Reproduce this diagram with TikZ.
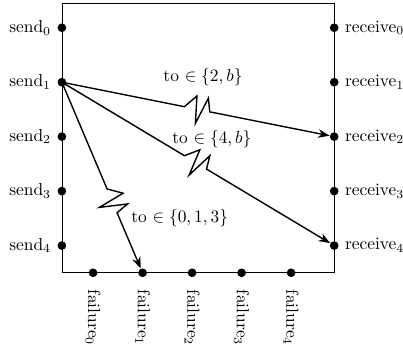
\documentclass[tikz,border=0pt]{standalone}
\usetikzlibrary{arrows.meta,calc}
\tikzset{
  dot/.style={circle, fill, inner sep=0pt, minimum size=5pt},
  bolt/.style={insert path={-- ++(#1+52:9.5pt) -- ++(#1-82:15.8pt) -- ++(#1+74:16.3pt) -- ++(#1-73:7.9pt)}}
}

\begin{document}
\begin{tikzpicture}[>=Stealth]
\useasboundingbox (-1.25,-1.49) rectangle (6.89,5.51);
\draw (0,0) rectangle (5.5,5.45);
\foreach \i in {0,...,4} {
  \node[dot, label=left:send$_\i$] (s\i) at (0,{4.95-1.1*\i}) {};
  \node[dot, label=right:receive$_\i$] (r\i) at (5.5,{4.95-1.1*\i}) {};
  \node[dot] (f\i) at ({0.63+\i},0) {};
  \node[rotate=-90, anchor=west] (fl\i) at ([yshift=-2.2mm]f\i) {failure$_\i$};
}
% messages from send_1, each crossing a lossy link
\draw[->, thick] let \p1=($(r2)-(s1)$), \n1={atan2(\y1,\x1)} in
  (s1.center) -- ($(s1)!.45!(r2)$) [bolt=\n1] -- (r2);
\draw[->, thick] let \p1=($(r4)-(s1)$), \n1={atan2(\y1,\x1)} in
  (s1.center) -- ($(s1)!.45!(r4)$) [bolt=\n1] -- (r4);
\draw[->, thick] let \p1=($(f1)-(s1)$), \n1={atan2(\y1,\x1)} in
  (s1.center) -- ($(s1)!.56!(f1)$) [bolt=\n1] -- (f1);
\node (l2) at (2.85,3.96) {to $\in \{2,b\}$};
\node (l4) at (3.03,2.69) {to $\in \{4,b\}$};
\node (l013) at (2.38,1.11) {to $\in \{0,1,3\}$};
\end{tikzpicture}
\end{document}
